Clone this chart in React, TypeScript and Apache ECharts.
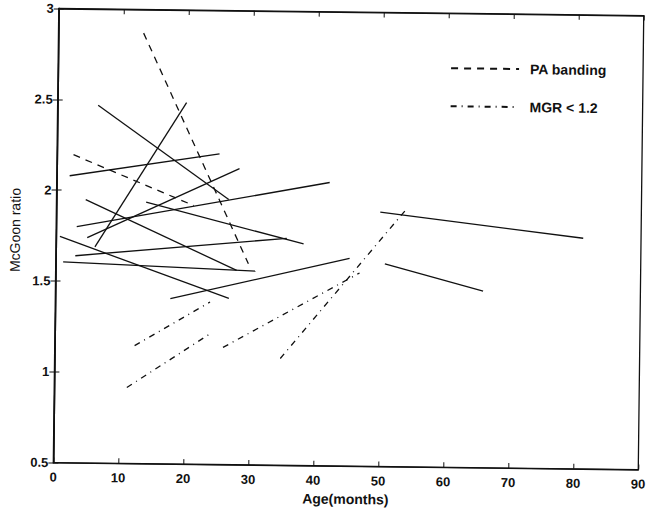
import React, { useEffect, useRef } from "react";
import * as echarts from "echarts";

// Age (months) vs McGoon ratio, each patient = [start, end] point pair
const solidLines: number[][][] = [
  [[6.24, 2.47], [26.5, 1.96]],
  [[6.0, 1.69], [19.84, 2.49]],
  [[1.98, 2.08], [25.0, 2.21]],
  [[4.8, 1.74], [28.1, 2.13]],
  [[3.17, 1.8], [42.0, 2.06]],
  [[4.5, 1.95], [27.85, 1.57]],
  [[13.8, 1.94], [38.1, 1.72]],
  [[3.0, 1.64], [35.5, 1.75]],
  [[1.14, 1.605], [30.75, 1.567]],
  [[0.6, 1.745], [26.7, 1.415]],
  [[17.7, 1.41], [45.2, 1.644]],
  [[49.84, 1.9], [81.1, 1.77]],
  [[50.64, 1.616], [65.8, 1.472]],
];

const paBandingLines: number[][][] = [
  [[13.1, 2.87], [29.64, 1.607]],
  [[2.54, 2.196], [21.13, 1.924]],
];

const mgrLines: number[][][] = [
  [[12.29, 1.149], [23.81, 1.394]],
  [[11.17, 0.918], [24.07, 1.224]],
  [[25.89, 1.145], [46.76, 1.564]],
  [[34.72, 1.088], [53.84, 1.918]],
];

const legendNames = ["PA banding", "MGR < 1.2"];
const xAxisName = "Age(months)";
const yAxisName = "McGoon ratio";

const FONT = "'Liberation Sans', Arial, Helvetica, sans-serif";
const INK = "#111";

export default function App() {
  const ref = useRef<HTMLDivElement>(null);

  useEffect(() => {
    if (!ref.current) return;
    const chart = echarts.init(ref.current, undefined, { renderer: "svg" });

    const mk = (name: string, data: number[][], type: any) => ({
      name,
      type: "line",
      data,
      symbol: "none",
      showSymbol: false,
      silent: true,
      lineStyle: { color: INK, width: 1.3, type },
      itemStyle: { color: INK },
    });

    const series: any[] = [];
    solidLines.forEach((d, i) => series.push(mk("patient " + (i + 1), d, "solid")));
    paBandingLines.forEach((d) => series.push(mk(legendNames[0], d, [7, 6])));
    mgrLines.forEach((d) => series.push(mk(legendNames[1], d, [6, 5, 1, 5])));

    const tickLabel = { fontFamily: FONT, fontWeight: "bold" as const, fontSize: 13, color: INK };

    chart.setOption({
      animation: false,
      backgroundColor: "#fff",
      grid: {
        left: 56,
        top: 12,
        right: 16,
        bottom: 42,
        show: true,
        borderColor: INK,
        borderWidth: 1.3,
        containLabel: false,
      },
      legend: {
        data: legendNames,
        orient: "vertical",
        left: 448,
        top: 60,
        itemWidth: 68,
        itemHeight: 12,
        itemGap: 24,
        padding: 0,
        selectedMode: false,
        itemStyle: { opacity: 0 },
        textStyle: { fontFamily: FONT, fontWeight: "bold", fontSize: 14, color: INK, padding: [0, 0, 0, 6] },
      },
      xAxis: [
        {
          type: "value",
          min: 0,
          max: 90,
          interval: 10,
          position: "bottom",
          name: xAxisName,
          nameLocation: "middle",
          nameGap: 23,
          nameTextStyle: { fontFamily: FONT, fontWeight: "bold", fontSize: 14, color: INK },
          axisLine: { show: true, lineStyle: { color: INK, width: 1.3 } },
          axisTick: { show: true, inside: true, length: 5, lineStyle: { color: INK } },
          axisLabel: { ...tickLabel, margin: 8 },
          splitLine: { show: false },
        },
        {
          type: "value",
          min: 0,
          max: 90,
          interval: 10,
          position: "top",
          axisLine: { show: true, lineStyle: { color: INK, width: 1.3 } },
          axisTick: { show: true, inside: true, length: 5, lineStyle: { color: INK } },
          axisLabel: { show: false },
          splitLine: { show: false },
        },
      ],
      yAxis: [
        {
          type: "value",
          min: 0.5,
          max: 3,
          interval: 0.5,
          position: "left",
          name: yAxisName,
          nameLocation: "middle",
          nameGap: 27,
          nameRotate: 90,
          nameTextStyle: { fontFamily: FONT, fontSize: 14, color: INK, padding: [0, 0, 0, 10] },
          axisLine: { show: true, lineStyle: { color: INK, width: 1.3 } },
          axisTick: { show: true, inside: true, length: 5, lineStyle: { color: INK } },
          axisLabel: { ...tickLabel, margin: 5 },
          splitLine: { show: false },
        },
        {
          type: "value",
          min: 0.5,
          max: 3,
          interval: 0.5,
          position: "right",
          axisLine: { show: true, lineStyle: { color: INK, width: 1.3 } },
          axisTick: { show: true, inside: true, length: 5, lineStyle: { color: INK } },
          axisLabel: { show: false },
          splitLine: { show: false },
        },
      ],
      series,
    });

    return () => chart.dispose();
  }, []);

  return (
    <div
      ref={ref}
      style={{
        width: 657,
        height: 511,
        position: "absolute",
        left: 0,
        top: 0,
        transform: "rotate(0.69deg)",
        transformOrigin: "348.75px 240.75px",
      }}
    />
  );
}
